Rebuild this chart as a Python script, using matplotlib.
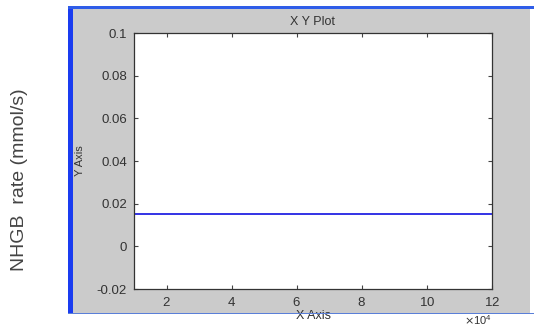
import numpy as np
import matplotlib
matplotlib.use('Agg')
import matplotlib.pyplot as plt
from matplotlib.patches import Rectangle
from matplotlib.ticker import ScalarFormatter

# data
x = np.array([10000, 120000])
y = np.array([0.015, 0.015])
xticks = [20000, 40000, 60000, 80000, 100000, 120000]
yticks = [-0.02, 0, 0.02, 0.04, 0.06, 0.08, 0.1]
ytick_labels = ['-0.02', '0', '0.02', '0.04', '0.06', '0.08', '0.1']

plt.rcParams['font.family'] = ['Liberation Sans', 'DejaVu Sans']

fig = plt.figure(figsize=(5.34, 3.28), dpi=100)
fig.patch.set_facecolor('white')

# gray window panel with blue borders
W, H = 534, 328
def fx(px): return px / W
def fy(py): return 1 - py / H

fig.add_artist(Rectangle((fx(68), fy(313)), fx(530) - fx(68), fy(7) - fy(313),
                         transform=fig.transFigure, facecolor='#cbcbcb', edgecolor='none', zorder=0))
fig.add_artist(Rectangle((fx(68), fy(313)), fx(73) - fx(68), fy(7) - fy(313),
                         transform=fig.transFigure, facecolor='#1a3cf0', edgecolor='none', zorder=1))
fig.add_artist(Rectangle((fx(68), fy(9)), fx(534) - fx(68), fy(6) - fy(9),
                         transform=fig.transFigure, facecolor='#2f5de8', edgecolor='none', zorder=1))
fig.add_artist(Rectangle((fx(68), fy(314)), fx(534) - fx(68), fy(312.5) - fy(314),
                         transform=fig.transFigure, facecolor='#5a7fd8', edgecolor='none', zorder=3))

ax = fig.add_axes([fx(134), fy(289), fx(492) - fx(134), fy(33) - fy(289)])
ax.set_facecolor('white')
ax.plot(x, y, color='#1010e0', linewidth=1.2)

ax.set_xlim(10000, 120000)
ax.set_ylim(-0.02, 0.1)
ax.set_xticks(xticks)
ax.set_yticks(yticks)
ax.set_yticklabels(ytick_labels)
fmt = ScalarFormatter(useMathText=True)
fmt.set_powerlimits((4, 4))
ax.xaxis.set_major_formatter(fmt)
ax.xaxis.get_offset_text().set_fontsize(8)
ax.xaxis.get_offset_text().set_color('#333333')

ax.tick_params(direction='in', length=3, width=0.8, top=True, right=True,
               labelsize=9.5, labelcolor='#333333', colors='#444444', pad=5)
for s in ax.spines.values():
    s.set_color('#333333')
    s.set_linewidth(0.9)

ax.set_title('X Y Plot', fontsize=9, color='#333333', pad=6)
ax.set_xlabel('X Axis', fontsize=9, color='#333333', labelpad=1)
ax.yaxis.set_label_coords(-0.138, 0.5)
ax.set_ylabel('Y Axis', fontsize=8, color='#333333')

fig.text(fx(20), fy(180), 'NHGB  rate (mmol/s)', rotation=90, fontsize=14,
         color='#444444', ha='center', va='center')

plt.savefig('out.png', dpi=100)
